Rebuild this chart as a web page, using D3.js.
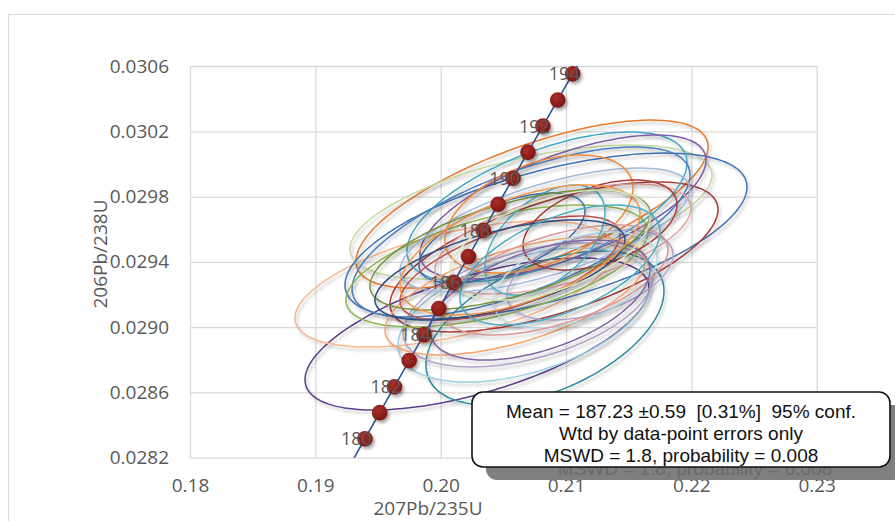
<!DOCTYPE html>
<html>
<head>
<meta charset="utf-8">
<script src="https://cdn.jsdelivr.net/npm/d3@7"></script>
<style>
  html, body { margin: 0; padding: 0; background: #fff; }
  svg { display: block; }
  .stat { white-space: pre; }
</style>
</head>
<body>
<script>
// Concordia curve: ages (Ma) and their isotope ratios
const concAge = [179, 180, 181, 182, 183, 184, 185, 186, 187, 188, 189, 190, 191, 192, 193, 194, 195];
const conc207 = [0.192781, 0.193957, 0.195133, 0.196311, 0.197489, 0.198669, 0.199851, 0.201033, 0.202216,
                 0.203401, 0.204586, 0.205773, 0.206962, 0.208151, 0.209341, 0.210533, 0.211726];
const conc206 = [0.028156, 0.028316, 0.028476, 0.028635, 0.028795, 0.028954, 0.029114, 0.029274, 0.029433,
                 0.029593, 0.029753, 0.029912, 0.030072, 0.030232, 0.030392, 0.030552, 0.030712];
const markerAges = [180, 181, 182, 183, 184, 185, 186, 187, 188, 189, 190, 191, 192, 193, 194];
const labelAges = [180, 182, 184, 186, 188, 190, 192, 194];

// Spot analyses: 207Pb/235U, 206Pb/238U, 2-sigma errors and error correlation
const spot207 = [0.20290, 0.20729, 0.20114, 0.20721, 0.20840, 0.20904, 0.20832, 0.20665, 0.20697, 0.20848,
                 0.20976, 0.20641, 0.20449, 0.20976, 0.20832, 0.20489, 0.20784, 0.20593, 0.20553, 0.21271,
                 0.21191, 0.21072, 0.20912, 0.20832, 0.20792, 0.20553, 0.20473, 0.20633, 0.20872, 0.20952];
const spot206 = [0.028958, 0.029754, 0.029264, 0.029705, 0.029558, 0.029430, 0.028995, 0.029074, 0.029136, 0.029736,
                 0.029736, 0.029583, 0.029375, 0.029540, 0.029595, 0.029546, 0.029693, 0.029191, 0.029362, 0.029626,
                 0.029319, 0.029289, 0.029289, 0.029534, 0.029166, 0.029473, 0.029350, 0.029473, 0.029503, 0.029381];
const err207 = [0.013723, 0.014042, 0.012765, 0.014441, 0.016036, 0.013084, 0.009494, 0.010053, 0.009973, 0.011170,
                0.011409, 0.013483, 0.012047, 0.010212, 0.011569, 0.006622, 0.007500, 0.010372, 0.008776, 0.006143,
                0.006622, 0.006542, 0.009015, 0.004787, 0.008776, 0.011170, 0.009973, 0.009574, 0.007978, 0.007978];
const err206 = [0.0004657, 0.0005147, 0.0003860, 0.0004105, 0.0005086, 0.0004595, 0.0004718, 0.0004105, 0.0003799, 0.0004595,
                0.0004412, 0.0005208, 0.0003738, 0.0003370, 0.0003799, 0.0002757, 0.0003615, 0.0003615, 0.0003186, 0.0002757,
                0.0002757, 0.0002941, 0.0003370, 0.0003370, 0.0003676, 0.0003676, 0.0003064, 0.0003983, 0.0003370, 0.0003676];
const rho = [0.60, 0.68, 0.54, 0.55, 0.59, 0.63, 0.48, 0.45, 0.45, 0.59,
             0.65, 0.67, 0.56, 0.56, 0.65, 0.60, 0.44, 0.58, 0.63, 0.45,
             0.45, 0.45, 0.55, 0.50, 0.50, 0.60, 0.60, 0.55, 0.50, 0.55];
const spotColor = ["#5B3F8C", "#E8792B", "#FAB58C", "#C4D9A0", "#3F72B8", "#A83A36", "#2E8A9E", "#9ACFE0", "#B4A3CC", "#40A8C4",
                   "#7D5BA8", "#4A7EC0", "#8DB54E", "#E0A3A2", "#A3B9DC", "#3D70B6", "#EE8A3A", "#F7A36A", "#C0504D", "#A83A36",
                   "#B4A3CC", "#B7DEE8", "#D99694", "#4BACC6", "#8064A2", "#77933C", "#2C4D80", "#F79646", "#D7E4BD", "#4BACC6"];

const xTicks = [0.18, 0.19, 0.20, 0.21, 0.22, 0.23];
const yTicks = [0.0282, 0.0286, 0.0290, 0.0294, 0.0298, 0.0302, 0.0306];
const statLines = ["Mean = 187.23 \u00B10.59  [0.31%]  95% conf.",
                   "Wtd by data-point errors only",
                   "MSWD = 1.8, probability = 0.008"];

const W = 895, H = 521;
const plot = { left: 190, right: 816.7, top: 66, bottom: 457.7 };

const svg = d3.select("body").append("svg").attr("width", W).attr("height", H);
const defs = svg.append("defs");

const sh = defs.append("filter").attr("id", "lineShadow")
  .attr("x", "-10%").attr("y", "-10%").attr("width", "130%").attr("height", "130%");
sh.append("feDropShadow").attr("dx", 2).attr("dy", 3).attr("stdDeviation", 1.6)
  .attr("flood-color", "#000").attr("flood-opacity", 0.22);

const msh = defs.append("filter").attr("id", "dotShadow")
  .attr("x", "-50%").attr("y", "-50%").attr("width", "200%").attr("height", "200%");
msh.append("feDropShadow").attr("dx", 2).attr("dy", 2.5).attr("stdDeviation", 1.8)
  .attr("flood-color", "#000").attr("flood-opacity", 0.35);

const grad = defs.append("radialGradient").attr("id", "dotFill")
  .attr("cx", "40%").attr("cy", "35%").attr("r", "65%");
grad.append("stop").attr("offset", "0%").attr("stop-color", "#A8302B");
grad.append("stop").attr("offset", "100%").attr("stop-color", "#7E1612");

defs.append("clipPath").attr("id", "plotClip").append("rect")
  .attr("x", plot.left).attr("y", plot.top)
  .attr("width", plot.right - plot.left).attr("height", plot.bottom - plot.top);

// chart area frame
svg.append("rect").attr("x", 8.5).attr("y", 14.5).attr("width", 1000).attr("height", 1000)
  .attr("fill", "#fff").attr("stroke", "#D9D9D9").attr("stroke-width", 1);

const x = d3.scaleLinear().domain([0.18, 0.23]).range([plot.left, plot.right]);
const y = d3.scaleLinear().domain([0.0282, 0.0306]).range([plot.bottom, plot.top]);

// gridlines
svg.append("g").attr("transform", `translate(0,${plot.bottom})`)
  .call(d3.axisBottom(x).tickValues(xTicks).tickSize(-(plot.bottom - plot.top)).tickFormat(""))
  .call(g => g.select(".domain").remove())
  .call(g => g.selectAll("line").attr("stroke", "#D9D9D9").attr("stroke-width", 1.3));
svg.append("g").attr("transform", `translate(${plot.left},0)`)
  .call(d3.axisLeft(y).tickValues(yTicks).tickSize(-(plot.right - plot.left)).tickFormat(""))
  .call(g => g.select(".domain").remove())
  .call(g => g.selectAll("line").attr("stroke", "#D9D9D9").attr("stroke-width", 1.3));

// tick labels
const tickFont = "'Open Sans', 'DejaVu Sans', sans-serif";
svg.append("g").attr("transform", `translate(0,${plot.bottom})`)
  .call(d3.axisBottom(x).tickValues(xTicks).tickSize(0).tickPadding(21).tickFormat(d3.format(".2f")))
  .call(g => g.select(".domain").remove())
  .call(g => g.selectAll("text").attr("fill", "#595959").style("font", `19px ${tickFont}`));
svg.append("g").attr("transform", `translate(${plot.left},0)`)
  .call(d3.axisLeft(y).tickValues(yTicks).tickSize(0).tickPadding(21).tickFormat(d3.format(".4f")))
  .call(g => g.select(".domain").remove())
  .call(g => g.selectAll("text").attr("fill", "#595959").style("font", `19px ${tickFont}`));

// axis titles
svg.append("text").attr("x", 428).attr("y", 515).attr("text-anchor", "middle")
  .attr("fill", "#595959").style("font", `19px ${tickFont}`).text("207Pb/235U");
svg.append("text").attr("transform", "translate(107,254) rotate(-90)").attr("text-anchor", "middle")
  .attr("fill", "#595959").style("font", `19px ${tickFont}`).text("206Pb/238U");

// error ellipses
const theta = d3.range(0, 360, 3).map(d => d * Math.PI / 180);
const ellLine = d3.line().curve(d3.curveCardinalClosed);
const spots = spot207.map((v, i) => ({ cx: v, cy: spot206[i], sx: err207[i], sy: err206[i], r: rho[i], c: spotColor[i] }));
const ellG = svg.append("g").attr("clip-path", "url(#plotClip)");
ellG.selectAll("path").data(spots).join("path")
  .attr("d", s => ellLine(theta.map(t => [
      x(s.cx + s.sx * Math.cos(t)),
      y(s.cy + s.sy * (s.r * Math.cos(t) + Math.sqrt(1 - s.r * s.r) * Math.sin(t)))
  ])))
  .attr("fill", "none").attr("stroke", s => s.c).attr("stroke-width", 1.5)
  .attr("filter", "url(#lineShadow)");

// concordia curve
const conc = concAge.map((a, i) => ({ age: a, x: conc207[i], y: conc206[i] }));
svg.append("g").attr("clip-path", "url(#plotClip)").append("path")
  .datum(conc)
  .attr("d", d3.line().x(d => x(d.x)).y(d => y(d.y)))
  .attr("fill", "none").attr("stroke", "#2F5597").attr("stroke-width", 1.6);

const marks = conc.filter(d => markerAges.includes(d.age));
svg.append("g").selectAll("circle").data(marks).join("circle")
  .attr("cx", d => x(d.x)).attr("cy", d => y(d.y)).attr("r", 7.8)
  .attr("fill", "url(#dotFill)").attr("filter", "url(#dotShadow)");

svg.append("g").selectAll("text").data(marks.filter(d => labelAges.includes(d.age))).join("text")
  .attr("x", d => x(d.x) + 7).attr("y", d => y(d.y)).attr("dy", "0.36em")
  .attr("text-anchor", "end").attr("fill", "#595959")
  .style("font", `18px ${tickFont}`).text(d => d.age);

// statistics box with its shadow
const box = { x: 472, y: 392, w: 418, h: 75 };
const boxFont = "'Liberation Sans', Arial, sans-serif";
const lineY = [418, 440, 462];
const shadow = svg.append("g").attr("transform", "translate(14,13)");
shadow.append("rect").attr("x", box.x).attr("y", box.y).attr("width", box.w).attr("height", box.h)
  .attr("rx", 11).attr("fill", "#7F7F7F");
shadow.append("text").attr("class", "stat").attr("x", box.x + box.w / 2).attr("y", lineY[2]).attr("text-anchor", "middle")
  .attr("fill", "#6A6A6A").style("font", `19px ${boxFont}`).text(statLines[2]);

const tb = svg.append("g");
tb.append("rect").attr("x", box.x).attr("y", box.y).attr("width", box.w).attr("height", box.h)
  .attr("rx", 11).attr("fill", "#fff").attr("stroke", "#111").attr("stroke-width", 1.6);
tb.selectAll("text").data(statLines).join("text").attr("class", "stat")
  .attr("x", box.x + box.w / 2).attr("y", (d, i) => lineY[i]).attr("text-anchor", "middle")
  .attr("fill", "#111").style("font", `19px ${boxFont}`).text(d => d);
</script>
</body>
</html>
